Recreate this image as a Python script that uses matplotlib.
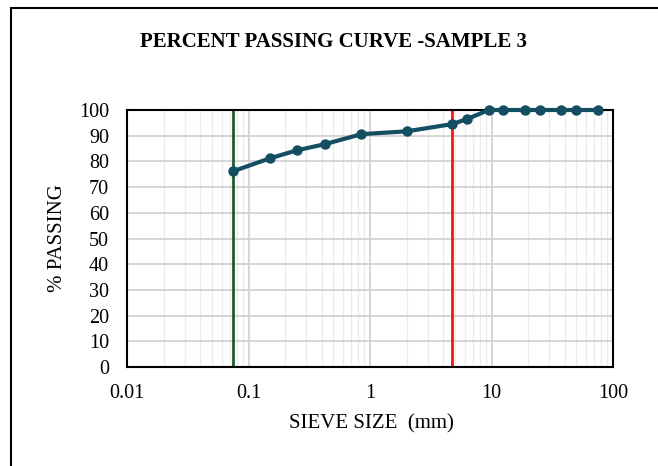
import matplotlib
matplotlib.use("Agg")
import matplotlib.pyplot as plt
from matplotlib.patches import Rectangle
from matplotlib.ticker import LogLocator, NullFormatter

sieve_mm = [0.075, 0.15, 0.25, 0.425, 0.85, 2.0, 4.75, 6.3, 9.5, 12.5, 19, 25, 37.5, 50, 75]
passing = [76.2, 81.2, 84.3, 86.7, 90.6, 91.7, 94.5, 96.5, 100, 100, 100, 100, 100, 100, 100]
fines_limit = 0.075
sand_limit = 4.75
x_ticks = [0.01, 0.1, 1, 10, 100]
x_tick_labels = ["0.01", "0.1", "1", "10", "100"]
y_ticks = list(range(0, 101, 10))

plt.rcParams['font.family'] = ['Liberation Serif', 'DejaVu Serif']

fig = plt.figure(figsize=(6.58, 4.66), dpi=100)
ax = fig.add_axes([127/658, 1-367/466, (613-127)/658, (367-110)/466])

ax.set_xscale('log')
ax.set_xlim(0.01, 100)
ax.set_ylim(0, 100)
ax.set_xticks(x_ticks)
ax.set_xticklabels(x_tick_labels)
ax.xaxis.set_minor_locator(LogLocator(base=10, subs=range(2, 10), numticks=20))
ax.xaxis.set_minor_formatter(NullFormatter())
ax.set_yticks(y_ticks)

ax.grid(True, which='major', axis='both', color='#d0d0d0', linewidth=1.2)
ax.grid(True, which='minor', axis='x', color='#ececec', linewidth=1.0)
ax.set_axisbelow(True)
ax.tick_params(which='both', length=0, labelsize=14.5)
ax.tick_params(axis='y', pad=13)
ax.tick_params(axis='x', pad=12)

ax.axvline(fines_limit, color='#1f5a2a', linewidth=2)
ax.axvline(sand_limit, color='#ff1010', linewidth=2)

ax.plot(sieve_mm, passing, color='#134e62', linewidth=3, marker='o', markersize=6.5, zorder=5, clip_on=False)

for s in ax.spines.values():
    s.set_linewidth(1.5)
    s.set_color('black')

ax.set_xlabel('SIEVE SIZE  (mm)', fontsize=15, va='center')
ax.xaxis.set_label_coords(0.502, (367-424)/257)
ax.set_ylabel('% PASSING', fontsize=15, va='center')
ax.yaxis.set_label_coords((57-127)/486, 0.502)
fig.text(334/658, 1-42/466, 'PERCENT PASSING CURVE -SAMPLE 3', fontsize=15, fontweight='bold', ha='center', va='center')

fig.patches.append(Rectangle((11/658, -0.1), 1.0, 1-8/466+0.1, transform=fig.transFigure,
                             fill=False, edgecolor='black', linewidth=1.5))

fig.savefig('out.png', dpi=100)
